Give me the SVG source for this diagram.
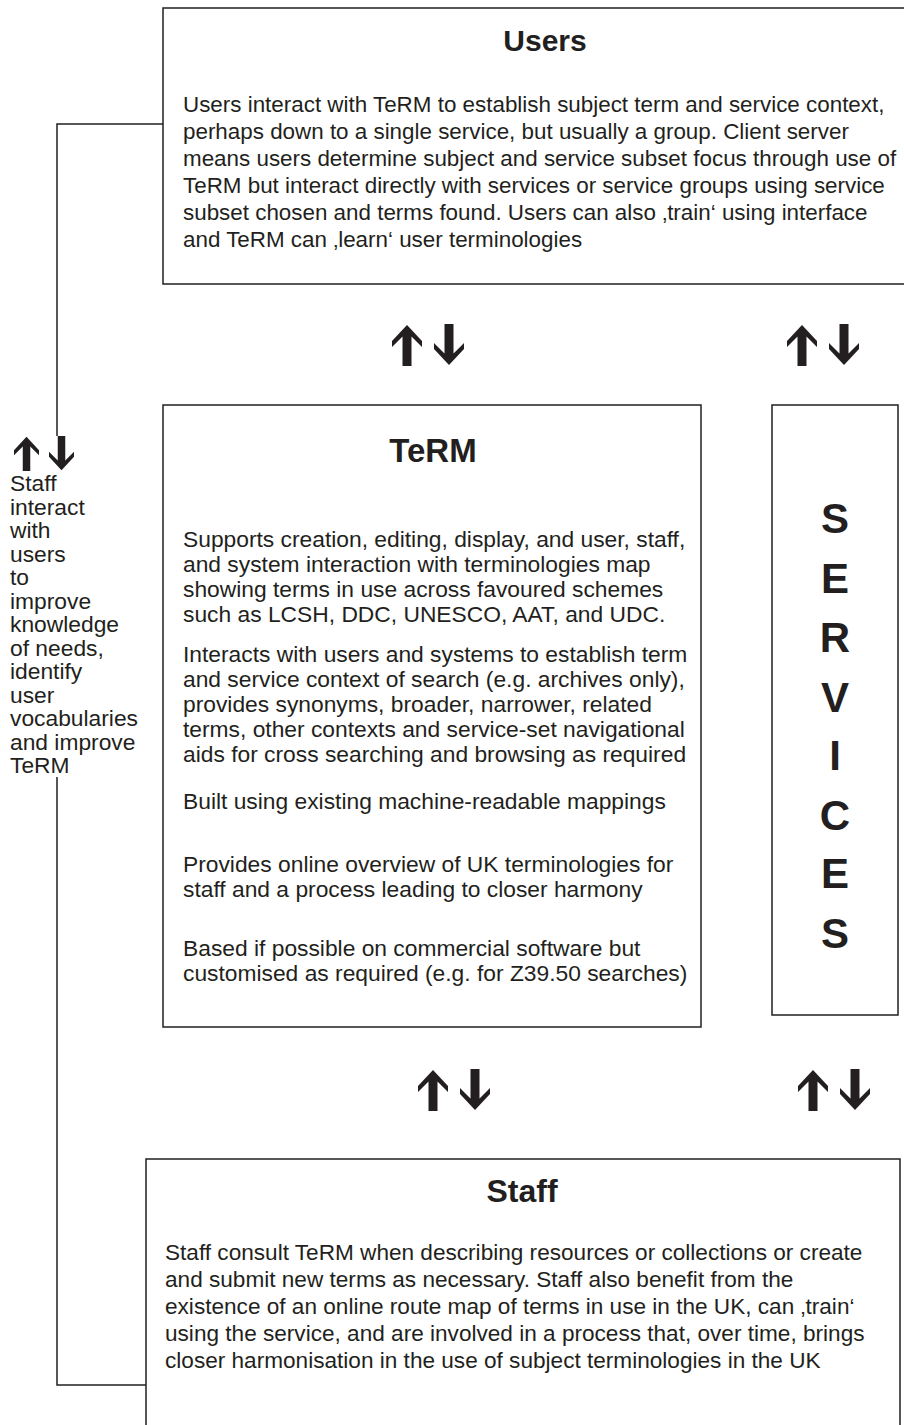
<svg xmlns="http://www.w3.org/2000/svg" xmlns:xlink="http://www.w3.org/1999/xlink" width="904" height="1425" viewBox="0 0 904 1425">
<style>
.box{fill:#fff;stroke:#231f20;stroke-width:1.5}
.t{font-family:"Liberation Sans",Arial,sans-serif;fill:#231f20}
.tu{font-size:22.4px}
.tt{font-size:22.8px}
.ts{font-size:22.6px}
.tl{font-size:22.8px}
.h{font-family:"Liberation Sans",Arial,sans-serif;font-weight:bold;fill:#231f20;text-anchor:middle}
.s{font-family:"Liberation Sans",Arial,sans-serif;font-size:42px;font-weight:bold;fill:#231f20;text-anchor:middle}
.c{fill:none;stroke:#231f20;stroke-width:1.5}
.a{fill:#231f20}
</style>
<defs>
<symbol id="ud" viewBox="0 0 72 42">
<polygon class="a" points="15,1 30,17 30,23 19.5,12.5 19.5,42 10.5,42 10.5,12.5 0,23 0,17"/>
<polygon class="a" points="57,41 72,25 72,19 61.5,29.5 61.5,0 52.5,0 52.5,29.5 42,19 42,25"/>
</symbol>
</defs>
<rect width="904" height="1425" fill="#fff"/>
<g id="connectors">
<polyline class="c" points="163,124 57,124 57,436"/>
<polyline class="c" points="57,777 57,1385 146,1385"/>
<use xlink:href="#ud" x="392" y="324" width="72" height="42"/>
<use xlink:href="#ud" x="787" y="324" width="72" height="42"/>
<use xlink:href="#ud" x="418" y="1069" width="72" height="42"/>
<use xlink:href="#ud" x="798" y="1069" width="72" height="42"/>
<use xlink:href="#ud" x="9" y="436" width="70" height="35"/>
</g>
<g id="users">
<rect class="box" x="163" y="8" width="750" height="276"/>
<text class="h" x="545" y="51" font-size="30">Users</text>
<text class="t tu" x="183" y="112">Users interact with TeRM to establish subject term and service context,</text>
<text class="t tu" x="183" y="139">perhaps down to a single service, but usually a group. Client server</text>
<text class="t tu" x="183" y="166">means users determine subject and service subset focus through use of</text>
<text class="t tu" x="183" y="193">TeRM but interact directly with services or service groups using service</text>
<text class="t tu" x="183" y="220">subset chosen and terms found. Users can also ‚train‘ using interface</text>
<text class="t tu" x="183" y="247">and TeRM can ‚learn‘ user terminologies</text>
</g>
<g id="term">
<rect class="box" x="163" y="405" width="538" height="622"/>
<text class="h" x="433" y="462" font-size="33">TeRM</text>
<text class="t tt" x="183" y="547">Supports creation, editing, display, and user, staff,</text>
<text class="t tt" x="183" y="572">and system interaction with terminologies map</text>
<text class="t tt" x="183" y="597">showing terms in use across favoured schemes</text>
<text class="t tt" x="183" y="622">such as LCSH, DDC, UNESCO, AAT, and UDC.</text>
<text class="t tt" x="183" y="662">Interacts with users and systems to establish term</text>
<text class="t tt" x="183" y="687">and service context of search (e.g. archives only),</text>
<text class="t tt" x="183" y="712">provides synonyms, broader, narrower, related</text>
<text class="t tt" x="183" y="737">terms, other contexts and service-set navigational</text>
<text class="t tt" x="183" y="762">aids for cross searching and browsing as required</text>
<text class="t tt" x="183" y="809">Built using existing machine-readable mappings</text>
<text class="t tt" x="183" y="872">Provides online overview of UK terminologies for</text>
<text class="t tt" x="183" y="897">staff and a process leading to closer harmony</text>
<text class="t tt" x="183" y="956">Based if possible on commercial software but</text>
<text class="t tt" x="183" y="981">customised as required (e.g. for Z39.50 searches)</text>
</g>
<g id="services">
<rect class="box" x="772" y="405" width="126" height="610"/>
<text class="s" x="835" y="533">S</text>
<text class="s" x="835" y="593">E</text>
<text class="s" x="835" y="652">R</text>
<text class="s" x="835" y="712">V</text>
<text class="s" x="835" y="770">I</text>
<text class="s" x="835" y="830">C</text>
<text class="s" x="835" y="888">E</text>
<text class="s" x="835" y="948">S</text>
</g>
<g id="staff">
<rect class="box" x="146" y="1159" width="754" height="280"/>
<text class="h" x="522" y="1202" font-size="32">Staff</text>
<text class="t ts" x="165" y="1260">Staff consult TeRM when describing resources or collections or create</text>
<text class="t ts" x="165" y="1287">and submit new terms as necessary. Staff also benefit from the</text>
<text class="t ts" x="165" y="1314">existence of an online route map of terms in use in the UK, can ‚train‘</text>
<text class="t ts" x="165" y="1341">using the service, and are involved in a process that, over time, brings</text>
<text class="t ts" x="165" y="1368">closer harmonisation in the use of subject terminologies in the UK</text>
</g>
<g id="staff-note">
<text class="t tl" x="10" y="491">Staff</text>
<text class="t tl" x="10" y="514.5">interact</text>
<text class="t tl" x="10" y="538">with</text>
<text class="t tl" x="10" y="561.5">users</text>
<text class="t tl" x="10" y="585">to</text>
<text class="t tl" x="10" y="608.5">improve</text>
<text class="t tl" x="10" y="632">knowledge</text>
<text class="t tl" x="10" y="655.5">of needs,</text>
<text class="t tl" x="10" y="679">identify</text>
<text class="t tl" x="10" y="702.5">user</text>
<text class="t tl" x="10" y="726">vocabularies</text>
<text class="t tl" x="10" y="749.5">and improve</text>
<text class="t tl" x="10" y="773">TeRM</text>
</g>
</svg>
